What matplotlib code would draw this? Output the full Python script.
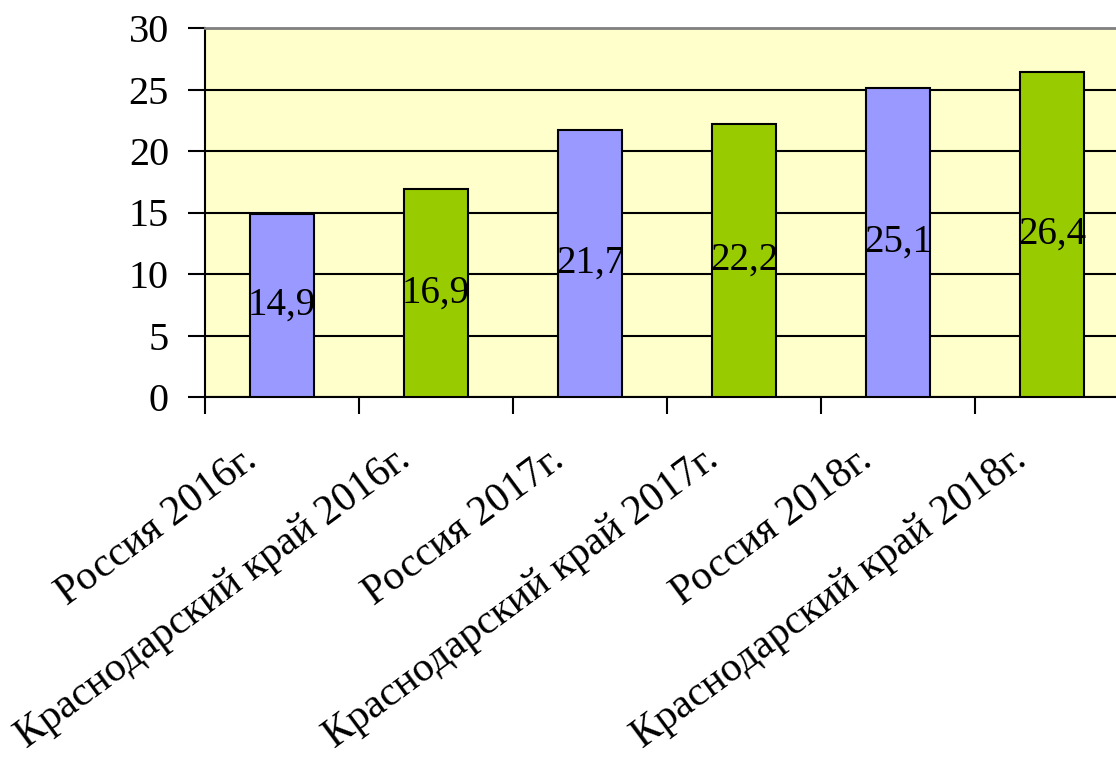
import matplotlib.pyplot as plt
import matplotlib.transforms as mtransforms
import numpy as np

categories = ["Россия 2016г.", "Краснодарский край 2016г.",
              "Россия 2017г.", "Краснодарский край 2017г.",
              "Россия 2018г.", "Краснодарский край 2018г."]
values = [14.9, 16.9, 21.7, 22.2, 25.1, 26.4]
colors = ["#9999FF", "#99CC00", "#9999FF", "#99CC00", "#9999FF", "#99CC00"]

plt.rcParams['font.family'] = ['Liberation Serif', 'DejaVu Serif']

fig = plt.figure(figsize=(11.16, 7.62), dpi=100)
ax = fig.add_axes([205/1116, 1 - 397/762, 924/1116, 369/762])
ax.set_facecolor("#FFFFCC")

x = np.arange(len(values)) + 0.5
ax.set_axisbelow(True)
ax.yaxis.grid(True, color="black", linewidth=1.5)
bars = ax.bar(x, values, width=0.42, color=colors, edgecolor="black", linewidth=1.5, zorder=3)

for xi, v in zip(x, values):
    ax.text(xi, v / 2, f"{v:.1f}".replace(".", ","), ha="center", va="center",
            fontsize=28, zorder=4)

ax.set_xlim(0, 6)
ax.set_ylim(0, 30)
ax.set_yticks(range(0, 31, 5))
ax.tick_params(axis="y", labelsize=29, length=12, width=1.5, direction="out", pad=14)

ax.set_xticks(range(0, 7))
ax.set_xticklabels([])
ax.tick_params(axis="x", which="major", length=12, width=1.5)

# category labels: rotated, right end (baseline) shifted left/down of the centre
offset = mtransforms.ScaledTranslation(-17 / 72, -48 / 72, fig.dpi_scale_trans)
for xi, name in zip(x, categories):
    ax.text(xi, 0, name, transform=ax.get_xaxis_transform() + offset,
            rotation=36.5, rotation_mode="anchor", ha="right", va="baseline",
            fontsize=30, clip_on=False)

for s in ["left", "bottom"]:
    ax.spines[s].set_linewidth(1.5)
ax.spines["top"].set_color("#808080")
ax.spines["top"].set_linewidth(2)
ax.spines["right"].set_visible(False)

fig.savefig("out.png", dpi=100)
